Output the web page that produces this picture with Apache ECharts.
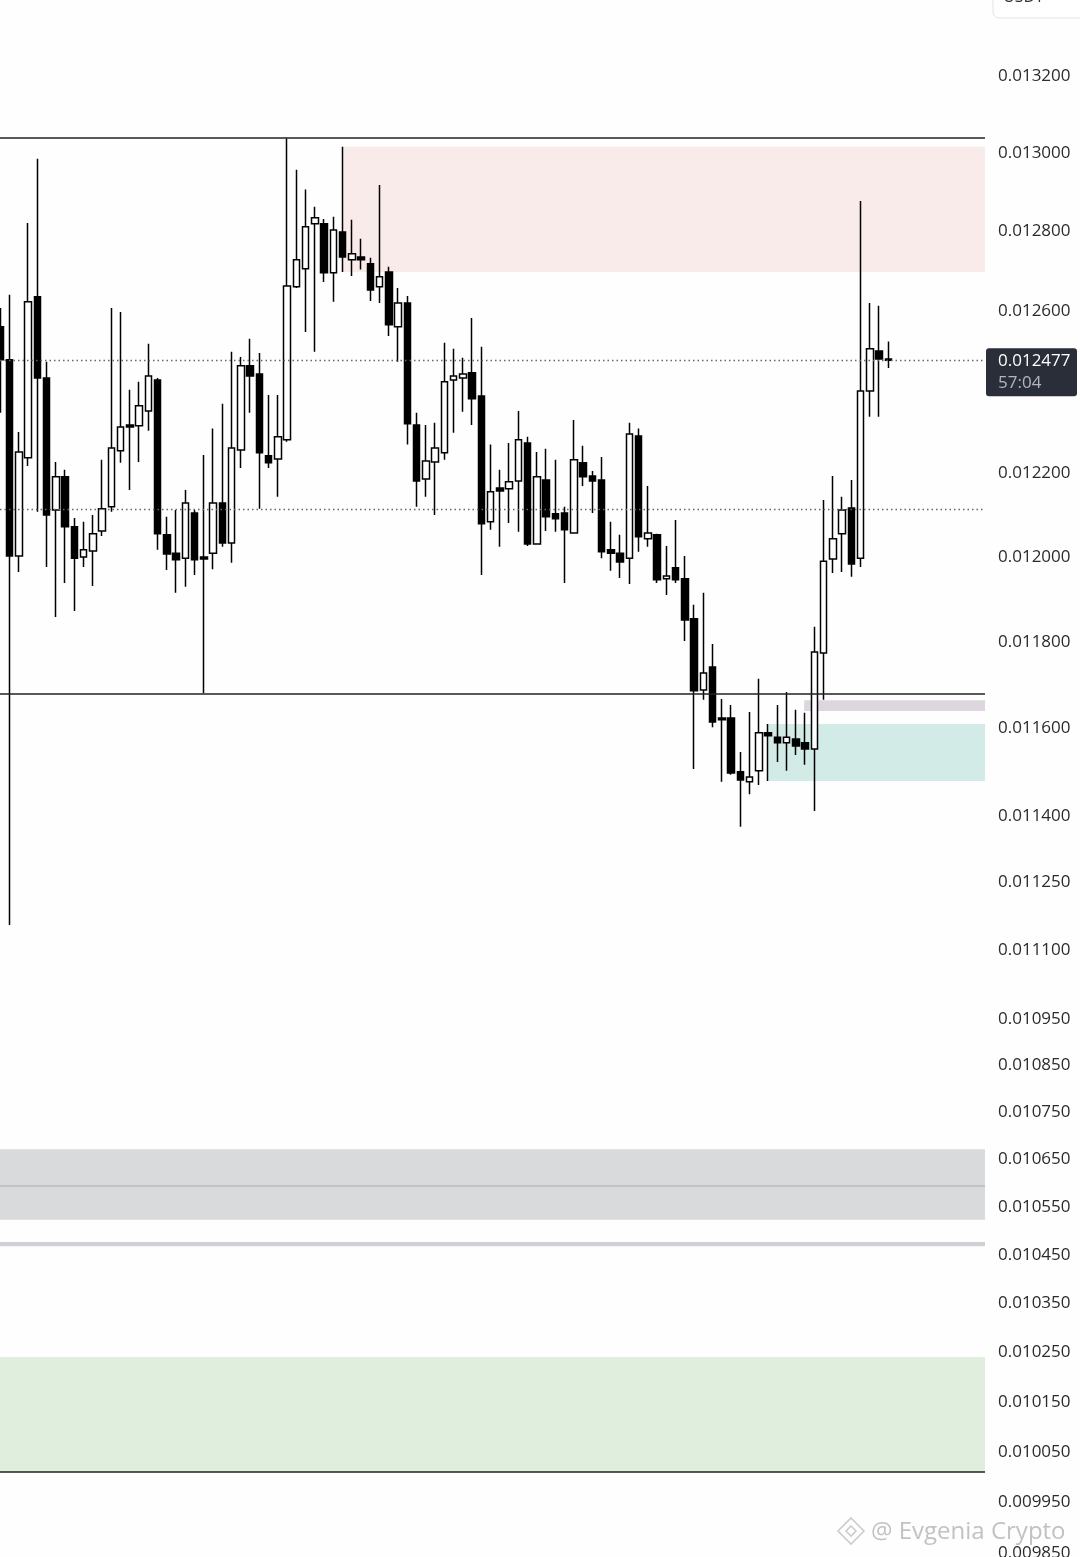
<!DOCTYPE html>
<html><head><meta charset="utf-8">
<script src="https://cdn.jsdelivr.net/npm/echarts@6/dist/echarts.min.js"></script>
<style>html,body{margin:0;padding:0;background:#fefefe;overflow:hidden}#c{width:1080px;height:1557px}</style>
</head><body><div id="c"></div>
<script>
// ---- data (prices, USDT) ----
const openP = [0.012560,0.012478,0.012002,0.012238,0.012635,0.012433,0.012112,0.012192,0.012072,0.012000,
0.012014,0.012062,0.012120,0.012255,0.012318,0.012316,0.012352,0.012428,0.012053,0.012009,
0.011997,0.012105,0.012000,0.012009,0.012129,0.012033,0.012257,0.012463,0.012443,0.012243,
0.012235,0.012282,0.012660,0.012705,0.012819,0.012819,0.012695,0.012798,0.012728,0.012735,
0.012718,0.012660,0.012697,0.012560,0.012619,0.012318,0.012187,0.012228,0.012250,0.012428,
0.012433,0.012446,0.012389,0.012084,0.012165,0.012163,0.012182,0.012274,0.012031,0.012184,
0.012103,0.012105,0.012057,0.012226,0.012194,0.012184,0.012017,0.012009,0.011997,0.012291,
0.012043,0.012053,0.011948,0.011974,0.011948,0.011854,0.011688,0.011741,0.011623,0.011623,
0.011500,0.011477,0.011502,0.011589,0.011579,0.011566,0.011575,0.011566,0.011552,0.011774,
0.011995,0.012055,0.012117,0.011997,0.012401,0.012500,0.012480];
const closeP = [0.012478,0.012002,0.012252,0.012622,0.012433,0.012100,0.012192,0.012072,0.011997,0.012017,
0.012055,0.012115,0.012262,0.012313,0.012313,0.012365,0.012438,0.012055,0.012007,0.011993,
0.012129,0.011993,0.011995,0.012129,0.012033,0.012262,0.012463,0.012438,0.012250,0.012226,
0.012289,0.012662,0.012728,0.012811,0.012834,0.012695,0.012803,0.012735,0.012743,0.012728,
0.012652,0.012685,0.012565,0.012619,0.012321,0.012182,0.012230,0.012262,0.012424,0.012438,
0.012443,0.012382,0.012079,0.012156,0.012158,0.012180,0.012282,0.012031,0.012192,0.012096,
0.012091,0.012065,0.012233,0.012192,0.012182,0.012012,0.012009,0.011988,0.012296,0.012048,
0.012057,0.011946,0.011955,0.011946,0.011851,0.011686,0.011727,0.011614,0.011619,0.011497,
0.011481,0.011488,0.011589,0.011582,0.011566,0.011579,0.011559,0.011552,0.011776,0.011990,
0.012043,0.012112,0.011983,0.012401,0.012505,0.012480,0.012477];
const lowP = [0.012348,0.011156,0.011964,0.012218,0.012108,0.011976,0.011858,0.011938,0.011872,0.011976,
0.011931,0.012050,0.012108,0.012226,0.012160,0.012228,0.012304,0.012017,0.011969,0.011915,
0.011929,0.011957,0.011680,0.011971,0.012024,0.011986,0.012213,0.012348,0.012115,0.012213,
0.012144,0.012277,0.012657,0.012547,0.012498,0.012672,0.012622,0.012697,0.012687,0.012703,
0.012624,0.012619,0.012537,0.012473,0.012270,0.012120,0.012144,0.012100,0.012233,0.012299,
0.012350,0.012318,0.011957,0.012065,0.012024,0.012081,0.012060,0.012026,0.012029,0.012062,
0.012060,0.011938,0.012055,0.012170,0.012105,0.011997,0.011967,0.011950,0.011936,0.012012,
0.012024,0.011938,0.011910,0.011938,0.011802,0.011506,0.011665,0.011602,0.011477,0.011493,
0.011375,0.011449,0.011470,0.011479,0.011522,0.011502,0.011538,0.011516,0.011411,0.011665,
0.011962,0.011964,0.011953,0.011976,0.012338,0.012338,0.012458];
const highP = [0.012607,0.012640,0.012301,0.012821,0.012985,0.012473,0.012228,0.012209,0.012093,0.012084,
0.012100,0.012233,0.012607,0.012597,0.012404,0.012424,0.012518,0.012433,0.012096,0.012112,
0.012160,0.012112,0.012245,0.012309,0.012370,0.012498,0.012485,0.012530,0.012495,0.012391,
0.012391,0.013038,0.012957,0.012906,0.012862,0.012831,0.012837,0.013016,0.012829,0.012781,
0.012733,0.012918,0.012710,0.012657,0.012637,0.012348,0.012318,0.012323,0.012520,0.012505,
0.012483,0.012582,0.012510,0.012270,0.012209,0.012274,0.012352,0.012289,0.012252,0.012260,
0.012233,0.012120,0.012330,0.012267,0.012206,0.012240,0.012084,0.012053,0.012323,0.012309,
0.012170,0.012055,0.012026,0.012088,0.012002,0.011887,0.011915,0.011795,0.011667,0.011653,
0.011545,0.011637,0.011714,0.011609,0.011653,0.011683,0.011642,0.011635,0.011835,0.012136,
0.012194,0.012144,0.012184,0.012877,0.012619,0.012612,0.012523];

const tickLabels = ['0.013200','0.013000','0.012800','0.012600','0.012400','0.012200','0.012000','0.011800',
'0.011600','0.011400','0.011250','0.011100','0.010950','0.010850','0.010750','0.010650','0.010550',
'0.010450','0.010350','0.010250','0.010150','0.010050','0.009950','0.009850'];

const solidLevels = [0.013038, 0.011680, 0.010010];
const dottedLevels = [0.012477, 0.012114];
const lastPrice = 0.012477;
const lastTimer = '57:04';
// zones: [startCandle, top, bottom]
const supplyZone = [37, 0.013016, 0.012697];
const demandZone = [83, 0.011609, 0.011479];
const smallGreyZone = [86.9, 0.011664, 0.011639];
// full-width zones: [top, bottom]
const greyBand = [0.010671, 0.010523];
const greyBandMid = 0.010595;
const thinBand = [0.010477, 0.010468];
const greenZone = [0.010241, 0.010010];
const yTopPrice = 0.013400, yBottomPrice = 0.0098429;
const xMin = -0.0324, xMax = 106.45;

// ---- build ----
const L = Math.log;
const idx = openP.map((_, i) => i);
const candleData = idx.map(i => [i, L(openP[i]), L(closeP[i]), L(lowP[i]), L(highP[i])]);

const chart = echarts.init(document.getElementById('c'), null, {renderer: 'canvas'});

const markAreaData = [
  [{xAxis: supplyZone[0], yAxis: L(supplyZone[1]), itemStyle: {color: '#f9ebea'}}, {xAxis: xMax, yAxis: L(supplyZone[2])}],
  [{xAxis: demandZone[0], yAxis: L(demandZone[1]), itemStyle: {color: '#d3ebe6'}}, {xAxis: xMax, yAxis: L(demandZone[2])}],
  [{xAxis: smallGreyZone[0], yAxis: L(smallGreyZone[1]), itemStyle: {color: '#ddd6df'}}, {xAxis: xMax, yAxis: L(smallGreyZone[2])}],
  [{yAxis: L(greyBand[0]), itemStyle: {color: '#d9dadc'}}, {yAxis: L(greyBand[1])}],
  [{yAxis: L(thinBand[0]), itemStyle: {color: '#d2d0d6'}}, {yAxis: L(thinBand[1])}],
  [{yAxis: L(greenZone[0]), itemStyle: {color: '#dfeedd'}}, {yAxis: L(greenZone[1])}]
];
const hLine = (v, style) => [{coord: [xMin, L(v)], lineStyle: style}, {coord: [xMax, L(v)]}];
const markLineData = [
  ...solidLevels.map(v => hLine(v, {color: '#222', width: 1.6, type: 'solid'})),
  ...dottedLevels.map(v => hLine(v, {color: '#666', width: 1.4, type: [1.5, 3]})),
  hLine(greyBandMid, {color: '#c4c2c9', width: 2, type: 'solid'})
];

chart.setOption({
  animation: false,
  backgroundColor: '#fefefe',
  grid: {left: 0, right: 95, top: 0, bottom: 0, containLabel: false, outerBoundsMode: 'none'},
  xAxis: {type: 'value', min: xMin, max: xMax, show: false},
  yAxis: {
    type: 'value', position: 'right', min: L(yBottomPrice), max: L(yTopPrice), scale: true,
    axisLine: {show: false}, axisTick: {show: false}, splitLine: {show: false},
    axisLabel: {
      customValues: tickLabels.map(s => L(parseFloat(s))),
      formatter: v => Math.exp(v).toFixed(6),
      margin: 13, align: 'left', fontSize: 17, color: '#2b2b2b', fontFamily: 'Open Sans'
    }
  },
  series: [
    {
      type: 'line', name: 'levels', data: [], z: 1, silent: true,
      markArea: {silent: true, data: markAreaData},
      markLine: {silent: true, precision: 10, symbol: ['none', 'none'], label: {show: false}, data: markLineData}
    },
    {
      type: 'candlestick', name: 'price', z: 3,
      dimensions: ['idx', 'open', 'close', 'lowest', 'highest'],
      encode: {x: 'idx', y: ['open', 'close', 'lowest', 'highest']},
      data: candleData,
      barWidth: 7,
      itemStyle: {color: '#ffffff', color0: '#000000', borderColor: '#000000', borderColor0: '#000000', borderWidth: 1.5}
    }
  ]
});

const yTag = chart.convertToPixel({yAxisIndex: 0}, L(lastPrice));
chart.setOption({
  graphic: [
    {type: 'rect', z: 100, shape: {x: 993, y: -22, width: 95, height: 40, r: 6},
     style: {fill: '#ffffff', stroke: '#e0e3eb', lineWidth: 1}},
    {type: 'text', z: 101, x: 1003, y: -3,
     style: {text: 'USDT', fill: '#333', fontSize: 16, fontFamily: 'Open Sans', verticalAlign: 'middle'}},
    {type: 'rect', z: 100, shape: {x: 986, y: yTag - 12, width: 91, height: 48, r: 3},
     style: {fill: '#2a2e39'}},
    {type: 'text', z: 101, x: 998, y: yTag + 1,
     style: {text: lastPrice.toFixed(6), fill: '#ffffff', fontSize: 17, fontFamily: 'Open Sans', verticalAlign: 'middle'}},
    {type: 'text', z: 101, x: 998, y: yTag + 23,
     style: {text: lastTimer, fill: '#b2b5be', fontSize: 17, fontFamily: 'Open Sans', verticalAlign: 'middle'}},
    {type: 'polygon', z: 100, shape: {points: [[851, 1518], [864, 1531], [851, 1544], [838, 1531]]},
     style: {fill: 'none', stroke: '#cccccc', lineWidth: 1.6}},
    {type: 'polygon', z: 100, shape: {points: [[851, 1526], [856, 1531], [851, 1536], [846, 1531]]},
     style: {fill: 'none', stroke: '#cccccc', lineWidth: 1.6}},
    {type: 'text', z: 100, x: 871, y: 1532,
     style: {text: '@ Evgenia Crypto', fill: '#c2c2c2', fontSize: 24, fontFamily: 'Open Sans', verticalAlign: 'middle'}}
  ]
});
</script>
</body></html>
